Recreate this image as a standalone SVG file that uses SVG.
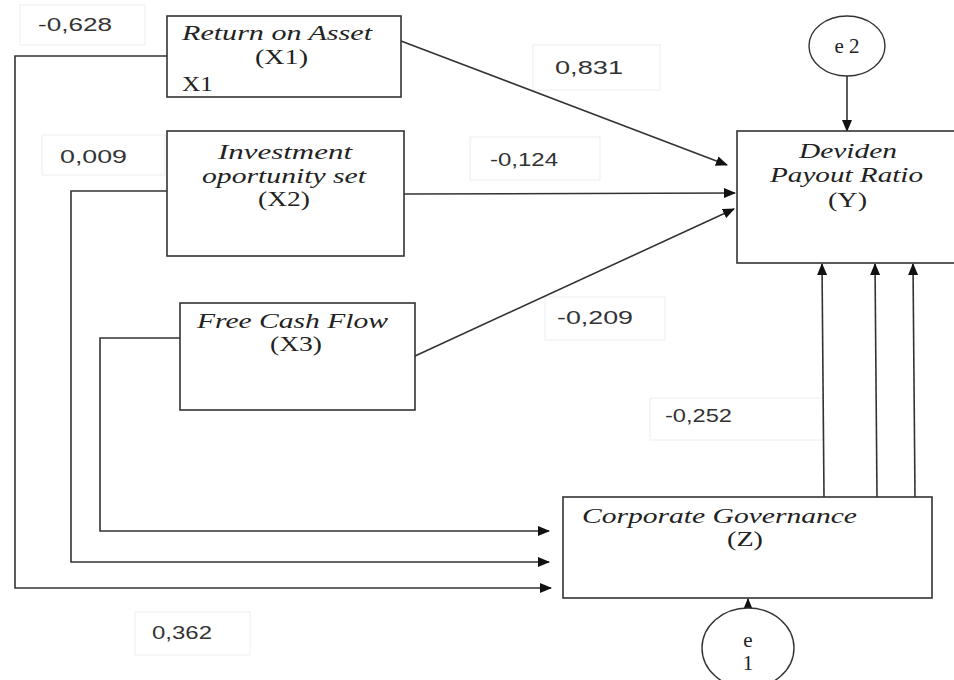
<svg xmlns="http://www.w3.org/2000/svg" width="954" height="680" viewBox="0 0 954 680">
<defs>
<marker id="ah" markerWidth="12" markerHeight="10" refX="11" refY="5" orient="auto" markerUnits="userSpaceOnUse"><path d="M0,0 L12,5 L0,10 Z" fill="#111"/></marker>
<style>
.box{fill:#fff;stroke:#333;stroke-width:1.6}
.lab{fill:#fff;stroke:#eee;stroke-width:1}
.ell{fill:#fff;stroke:#333;stroke-width:1.4}
.c{fill:none;stroke:#333;stroke-width:1.6}
.t{font-family:"Liberation Serif",serif;font-style:italic;font-size:21px;fill:#222}
.tn{font-family:"Liberation Serif",serif;font-size:21px;fill:#222}
.num{font-family:"Liberation Sans",sans-serif;font-size:19px;fill:#333}
</style>
</defs>
<rect width="954" height="680" fill="#fff"/>
<g id="labels">
<rect class="lab" x="20" y="5" width="125" height="40"/><text class="num" x="38" y="31" textLength="74" lengthAdjust="spacingAndGlyphs">-0,628</text>
<rect class="lab" x="533" y="45" width="127" height="45"/><text class="num" x="555" y="74" textLength="68" lengthAdjust="spacingAndGlyphs">0,831</text>
<rect class="lab" x="42" y="135" width="123" height="40"/><text class="num" x="60" y="163" textLength="67" lengthAdjust="spacingAndGlyphs">0,009</text>
<rect class="lab" x="470" y="137" width="130" height="43"/><text class="num" x="490" y="166" textLength="68" lengthAdjust="spacingAndGlyphs">-0,124</text>
<rect class="lab" x="545" y="297" width="120" height="43"/><text class="num" x="557" y="324" textLength="76" lengthAdjust="spacingAndGlyphs">-0,209</text>
<rect class="lab" x="650" y="398" width="173" height="42"/><text class="num" x="665" y="422" textLength="67" lengthAdjust="spacingAndGlyphs">-0,252</text>
<rect class="lab" x="135" y="612" width="115" height="43"/><text class="num" x="152" y="639" textLength="60" lengthAdjust="spacingAndGlyphs">0,362</text>
</g>
<g id="connectors">
<polyline class="c" points="167,56 15,56 15,588 551,588" marker-end="url(#ah)"/>
<polyline class="c" points="167,191 71,191 71,562 549,562" marker-end="url(#ah)"/>
<polyline class="c" points="180,338 100,338 100,531 549,531" marker-end="url(#ah)"/>
<line class="c" x1="401" y1="41" x2="727" y2="165" marker-end="url(#ah)"/>
<line class="c" x1="404" y1="194" x2="735" y2="193" marker-end="url(#ah)"/>
<line class="c" x1="415" y1="356" x2="734" y2="209" marker-end="url(#ah)"/>
<line class="c" x1="847" y1="76" x2="847" y2="131" marker-end="url(#ah)"/>
<line class="c" x1="824" y1="497" x2="822" y2="264" marker-end="url(#ah)"/>
<line class="c" x1="877" y1="497" x2="875" y2="264" marker-end="url(#ah)"/>
<line class="c" x1="915" y1="497" x2="913" y2="264" marker-end="url(#ah)"/>
<line class="c" x1="748" y1="608" x2="748" y2="599" marker-end="url(#ah)"/>
</g>
<g id="X1">
<rect class="box" x="167" y="16" width="234" height="81"/>
<text class="t" x="182" y="40" textLength="190" lengthAdjust="spacingAndGlyphs">Return on Asset</text>
<text class="tn" x="255" y="64" textLength="53" lengthAdjust="spacingAndGlyphs">(X1)</text>
<text class="tn" x="182" y="91" textLength="31" lengthAdjust="spacingAndGlyphs">X1</text>
</g>
<g id="X2">
<rect class="box" x="167" y="131" width="237" height="125"/>
<text class="t" x="218" y="159" textLength="134" lengthAdjust="spacingAndGlyphs">Investment</text>
<text class="t" x="202" y="183" textLength="164" lengthAdjust="spacingAndGlyphs">oportunity set</text>
<text class="tn" x="258" y="206" textLength="52" lengthAdjust="spacingAndGlyphs">(X2)</text>
</g>
<g id="X3">
<rect class="box" x="180" y="303" width="235" height="107"/>
<text class="t" x="197" y="328" textLength="191" lengthAdjust="spacingAndGlyphs">Free Cash Flow</text>
<text class="tn" x="270" y="351" textLength="52" lengthAdjust="spacingAndGlyphs">(X3)</text>
</g>
<g id="Y">
<rect class="box" x="737" y="131" width="222" height="132"/>
<text class="t" x="799" y="158" textLength="98" lengthAdjust="spacingAndGlyphs">Deviden</text>
<text class="t" x="770" y="182" textLength="153" lengthAdjust="spacingAndGlyphs">Payout Ratio</text>
<text class="tn" x="828" y="207" textLength="39" lengthAdjust="spacingAndGlyphs">(Y)</text>
</g>
<g id="Z">
<rect class="box" x="563" y="497" width="369" height="101"/>
<text class="t" x="582" y="523" textLength="275" lengthAdjust="spacingAndGlyphs">Corporate Governance</text>
<text class="tn" x="727" y="546" textLength="36" lengthAdjust="spacingAndGlyphs">(Z)</text>
</g>
<g id="e2">
<ellipse class="ell" cx="847" cy="46" rx="38" ry="30"/>
<text class="tn" x="847" y="53" text-anchor="middle">e 2</text>
</g>
<g id="e1">
<ellipse class="ell" cx="748" cy="648" rx="46" ry="40"/>
<text class="tn" x="748" y="647" text-anchor="middle">e</text>
<text class="tn" x="748" y="670" text-anchor="middle">1</text>
</g>
</svg>
